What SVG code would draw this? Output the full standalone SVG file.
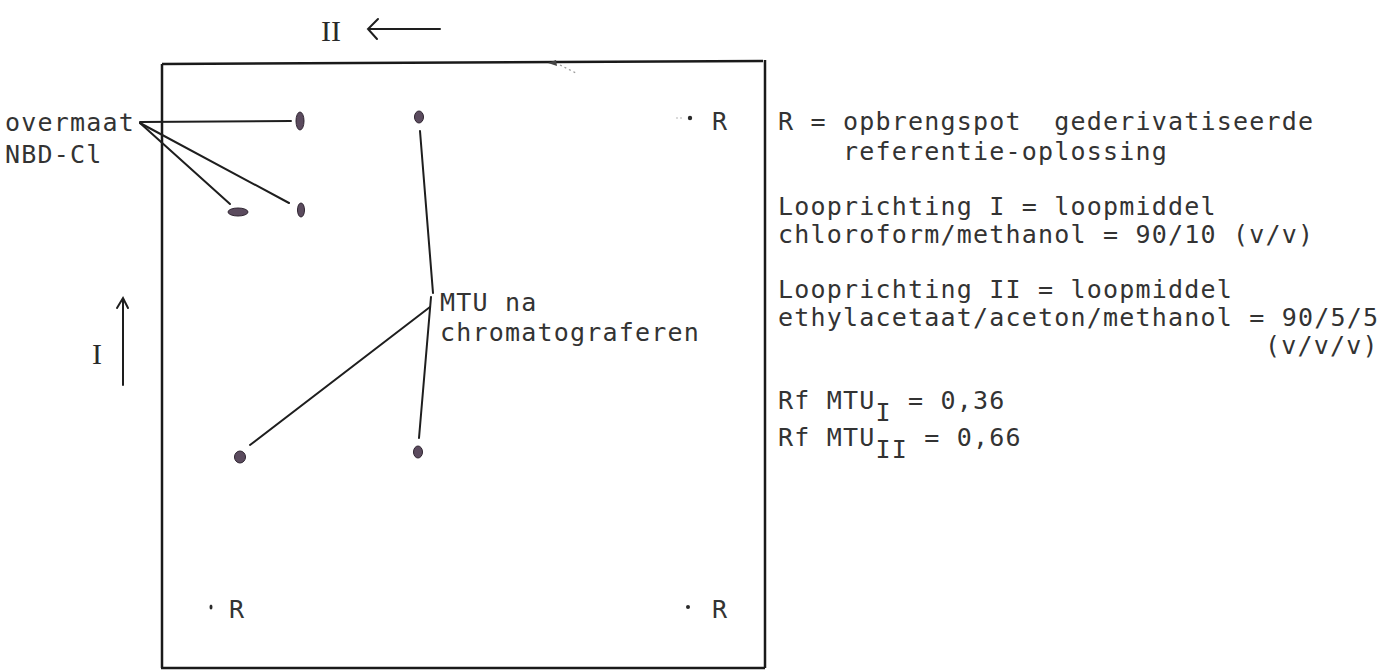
<svg xmlns="http://www.w3.org/2000/svg" width="1388" height="671" viewBox="0 0 1388 671" xml:space="preserve">
  <style>
    .t{font-family:"DejaVu Sans Mono","Liberation Mono",monospace;font-size:25px;letter-spacing:1.2px;fill:#333333;white-space:pre}
    .rom{font-family:"Liberation Serif",serif;font-size:30px;fill:#2a2a2a}
    .ln{stroke:#1e1e1e;stroke-width:2;fill:none;stroke-linecap:round}
    .frame{stroke:#1a1a1a;stroke-width:2.5;fill:none}
    .spot{fill:#5b4b5e;stroke:#2e2430;stroke-width:1}
    .ref{fill:#2a2a2a}
  </style>
  <rect width="1388" height="671" fill="#ffffff"/>

  <!-- TLC plate outline -->
  <g id="plate">
    <path class="frame" d="M162,64 L763,61 M765,60 L765,668 M162,64 L162,668 M161,668 L765,668"/>
    <path d="M556,60 l-8,3 l9,3 z" fill="#444"/>
    <path d="M560,65 l16,8" stroke="#999" stroke-width="1.2" stroke-dasharray="2 3"/>
  </g>

  <!-- development direction arrows -->
  <g id="dir-II">
    <text class="rom" x="321" y="41">II</text>
    <path class="ln" d="M440,29 L368,29 M378,19 L368,29 L377,39"/>
  </g>
  <g id="dir-I">
    <text class="rom" x="92" y="364">I</text>
    <path class="ln" d="M123,385 L123,298 M117,308 L123,298 L128,308"/>
  </g>

  <!-- spots on the plate -->
  <g id="spot-nbd-1"><ellipse class="spot" cx="300" cy="121" rx="4" ry="9"/></g>
  <g id="spot-nbd-2"><ellipse class="spot" cx="238" cy="212" rx="10" ry="4"/></g>
  <g id="spot-nbd-3"><ellipse class="spot" cx="301" cy="210" rx="3.5" ry="7"/></g>
  <g id="spot-mtu-1"><ellipse class="spot" cx="419" cy="117" rx="4.5" ry="6"/></g>
  <g id="spot-mtu-2"><ellipse class="spot" cx="240" cy="457" rx="5.5" ry="6"/></g>
  <g id="spot-mtu-3"><ellipse class="spot" cx="418" cy="452" rx="4.5" ry="6"/></g>

  <!-- reference application spots -->
  <g id="ref-top-right">
    <circle cx="677" cy="118" r="0.8" fill="#aaa"/>
    <circle cx="681" cy="118" r="0.8" fill="#aaa"/>
    <circle class="ref" cx="690" cy="118" r="2.2"/>
    <text class="t" x="712" y="130">R</text>
  </g>
  <g id="ref-bottom-left">
    <ellipse class="ref" cx="211" cy="607" rx="1.5" ry="2.5"/>
    <text class="t" x="229" y="618">R</text>
  </g>
  <g id="ref-bottom-right">
    <ellipse class="ref" cx="688" cy="607" rx="2" ry="2"/>
    <text class="t" x="712" y="618">R</text>
  </g>

  <!-- labels -->
  <g id="label-nbd">
    <text class="t" x="5" y="131">overmaat</text>
    <text class="t" x="5" y="163">NBD-Cl</text>
  </g>
  <g id="label-mtu">
    <text class="t" x="440" y="311">MTU na</text>
    <text class="t" x="440" y="341">chromatograferen</text>
  </g>

  <!-- leader lines -->
  <g id="connectors">
    <path class="ln" d="M140,122 L291,121"/>
    <path class="ln" d="M140,123 L230,204"/>
    <path class="ln" d="M140,123 L289,203"/>
    <path class="ln" d="M420,131 L433,293"/>
    <path class="ln" d="M431,297 L419,438"/>
    <path class="ln" d="M430,307 L250,445"/>
  </g>

  <!-- legend -->
  <g id="legend">
    <text class="t" x="778" y="130">R = opbrengspot  gederivatiseerde</text>
    <text class="t" x="778" y="160">    referentie-oplossing</text>
    <text class="t" x="778" y="215">Looprichting I = loopmiddel</text>
    <text class="t" x="778" y="243">chloroform/methanol = 90/10 (v/v)</text>
    <text class="t" x="778" y="298">Looprichting II = loopmiddel</text>
    <text class="t" x="778" y="326">ethylacetaat/aceton/methanol = 90/5/5</text>
    <text class="t" x="1265" y="354">(v/v/v)</text>
    <text class="t" x="778" y="409">Rf MTU<tspan dy="12">I</tspan><tspan dy="-12"> = 0,36</tspan></text>
    <text class="t" x="778" y="446">Rf MTU<tspan dy="12">II</tspan><tspan dy="-12"> = 0,66</tspan></text>
  </g>
</svg>
